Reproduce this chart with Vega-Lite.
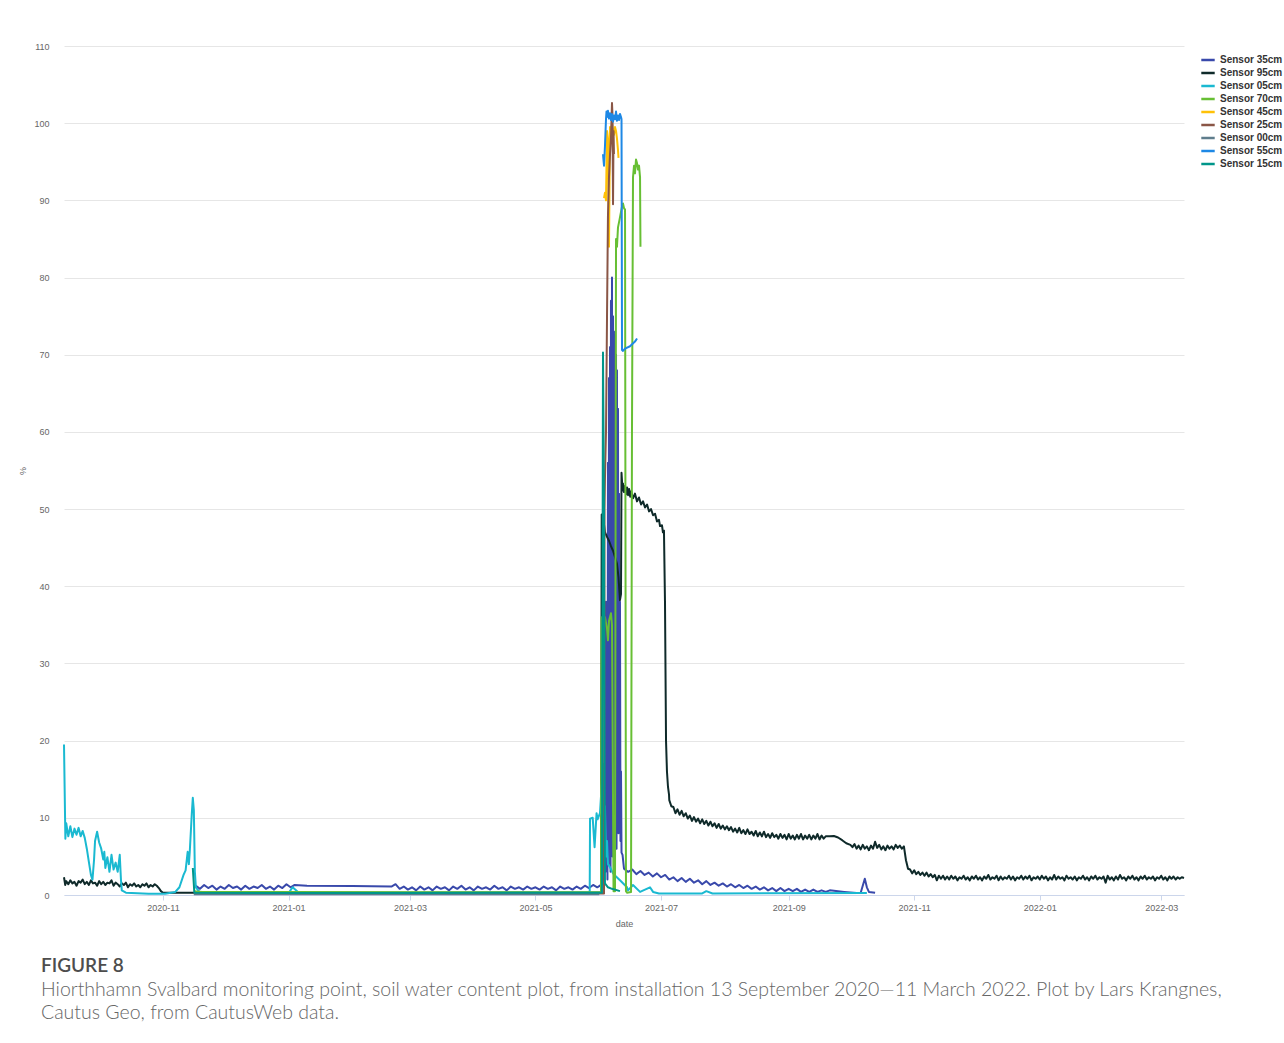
{
"$schema":"https://vega.github.io/schema/vega-lite/v6.json",
"width":1120,"height":849,
"autosize":"none",
"padding":{"left":64,"top":46,"right":100,"bottom":148},
"background":"white",
"config":{"view":{"stroke":null},"font":"Liberation Sans"},
"title":{"text":"FIGURE 8","subtitle":["Hiorthhamn Svalbard monitoring point, soil water content plot, from installation 13 September 2020—11 March 2022. Plot by Lars Krangnes,","Cautus Geo, from CautusWeb data."],"orient":"bottom","anchor":"start","frame":"group","dx":-23,"offset":29,"font":"Lato","fontSize":19,"fontWeight":600,"color":"#4d4d4d","subtitleFont":"Lato","subtitleFontSize":19.5,"subtitleFontWeight":300,"subtitleColor":"#666666","subtitleLineHeight":23,"subtitlePadding":5},
"datasets":{
"s35":[
{"d":"2020-11-17","v":1.2},{"d":"2020-11-19","v":0.8},{"d":"2020-11-21","v":1.3},{"d":"2020-11-23","v":0.9},{"d":"2020-11-25","v":1.2},{"d":"2020-11-27","v":0.7},{"d":"2020-11-29","v":1.1},{"d":"2020-12-01","v":0.8},{"d":"2020-12-03","v":1.3},{"d":"2020-12-05","v":0.9},{"d":"2020-12-07","v":1.1},{"d":"2020-12-09","v":0.7},{"d":"2020-12-11","v":1.2},{"d":"2020-12-13","v":0.8},{"d":"2020-12-15","v":1.1},{"d":"2020-12-17","v":0.9},{"d":"2020-12-19","v":1.3},{"d":"2020-12-21","v":0.8},{"d":"2020-12-23","v":1.1},{"d":"2020-12-25","v":0.7},{"d":"2020-12-27","v":1.2},{"d":"2020-12-29","v":0.9},{"d":"2020-12-31","v":1.4},{"d":"2021-01-02","v":1.0},{"d":"2021-01-04","v":1.3},
{"d":"2021-01-10","v":1.2},{"d":"2021-02-01","v":1.15},{"d":"2021-02-20","v":1.1},
{"d":"2021-02-22","v":1.4},{"d":"2021-02-24","v":0.8},{"d":"2021-02-26","v":1.1},{"d":"2021-02-28","v":0.7},{"d":"2021-03-02","v":1.0},{"d":"2021-03-04","v":0.6},{"d":"2021-03-06","v":1.1},{"d":"2021-03-08","v":0.7},{"d":"2021-03-10","v":1.0},{"d":"2021-03-12","v":0.6},{"d":"2021-03-14","v":1.1},{"d":"2021-03-16","v":0.8},{"d":"2021-03-18","v":1.0},{"d":"2021-03-20","v":0.6},{"d":"2021-03-22","v":1.1},{"d":"2021-03-24","v":0.8},{"d":"2021-03-26","v":1.2},{"d":"2021-03-28","v":0.7},{"d":"2021-03-30","v":1.0},{"d":"2021-04-01","v":0.6},{"d":"2021-04-03","v":1.1},{"d":"2021-04-05","v":0.8},{"d":"2021-04-07","v":1.0},{"d":"2021-04-09","v":0.7},{"d":"2021-04-11","v":1.2},{"d":"2021-04-13","v":0.8},{"d":"2021-04-15","v":1.0},{"d":"2021-04-17","v":0.6},{"d":"2021-04-19","v":1.1},{"d":"2021-04-21","v":0.8},{"d":"2021-04-23","v":1.0},{"d":"2021-04-25","v":0.7},{"d":"2021-04-27","v":1.1},{"d":"2021-04-29","v":0.8},{"d":"2021-05-01","v":1.0},{"d":"2021-05-03","v":0.7},{"d":"2021-05-05","v":1.1},{"d":"2021-05-07","v":0.8},{"d":"2021-05-09","v":1.0},{"d":"2021-05-11","v":0.6},{"d":"2021-05-13","v":1.1},{"d":"2021-05-15","v":0.8},{"d":"2021-05-17","v":1.0},{"d":"2021-05-19","v":0.7},{"d":"2021-05-21","v":1.1},{"d":"2021-05-23","v":0.8},{"d":"2021-05-25","v":1.2},{"d":"2021-05-27","v":0.9},{"d":"2021-05-29","v":1.3},{"d":"2021-05-31","v":1.0},{"d":"2021-06-01T08:00","v":1.2},
{"d":"2021-06-02T07:00","v":1.5},{"d":"2021-06-03T07:00","v":2.0},{"d":"2021-06-03T18:00","v":22},{"d":"2021-06-04T00:00","v":3},{"d":"2021-06-04T06:00","v":38},{"d":"2021-06-04T12:00","v":4},{"d":"2021-06-04T18:00","v":35},{"d":"2021-06-04T23:00","v":2},{"d":"2021-06-05T05:00","v":56},{"d":"2021-06-05T11:00","v":4},{"d":"2021-06-05T17:00","v":67},{"d":"2021-06-05T23:00","v":6},{"d":"2021-06-06T05:00","v":71},{"d":"2021-06-06T11:00","v":3},{"d":"2021-06-06T16:00","v":77},{"d":"2021-06-06T22:00","v":9},{"d":"2021-06-07T04:00","v":80},{"d":"2021-06-07T10:00","v":5},{"d":"2021-06-07T16:00","v":75},{"d":"2021-06-07T22:00","v":8},{"d":"2021-06-08T03:00","v":73},{"d":"2021-06-08T09:00","v":4},{"d":"2021-06-08T15:00","v":72.5},{"d":"2021-06-08T21:00","v":12},{"d":"2021-06-09T03:00","v":70},{"d":"2021-06-09T09:00","v":6},{"d":"2021-06-09T14:00","v":68},{"d":"2021-06-09T20:00","v":10},{"d":"2021-06-10T02:00","v":63},{"d":"2021-06-10T08:00","v":8},{"d":"2021-06-10T14:00","v":52},{"d":"2021-06-10T20:00","v":12},{"d":"2021-06-11T01:00","v":38},{"d":"2021-06-11T07:00","v":7},{"d":"2021-06-11T13:00","v":16},{"d":"2021-06-11T19:00","v":5.5},{"d":"2021-06-12T07:00","v":5.2},{"d":"2021-06-13T00:00","v":3.4},
{"d":"2021-06-15","v":3.0},{"d":"2021-06-17","v":3.3},{"d":"2021-06-19","v":2.7},{"d":"2021-06-21","v":3.1},{"d":"2021-06-23","v":2.6},{"d":"2021-06-25","v":2.9},{"d":"2021-06-27","v":2.4},{"d":"2021-06-29","v":2.8},{"d":"2021-07-01","v":2.3},{"d":"2021-07-03","v":2.6},{"d":"2021-07-05","v":2.0},{"d":"2021-07-07","v":2.3},{"d":"2021-07-09","v":1.8},{"d":"2021-07-11","v":2.2},{"d":"2021-07-13","v":1.7},{"d":"2021-07-15","v":2.1},{"d":"2021-07-17","v":1.6},{"d":"2021-07-19","v":1.9},{"d":"2021-07-21","v":1.4},{"d":"2021-07-23","v":1.8},{"d":"2021-07-25","v":1.3},{"d":"2021-07-27","v":1.6},{"d":"2021-07-29","v":1.2},{"d":"2021-07-31","v":1.5},{"d":"2021-08-02","v":1.1},{"d":"2021-08-04","v":1.4},{"d":"2021-08-06","v":1.0},{"d":"2021-08-08","v":1.3},{"d":"2021-08-10","v":0.9},{"d":"2021-08-12","v":1.2},{"d":"2021-08-14","v":0.8},{"d":"2021-08-16","v":1.1},{"d":"2021-08-18","v":0.7},{"d":"2021-08-20","v":1.0},{"d":"2021-08-22","v":0.6},{"d":"2021-08-24","v":0.9},{"d":"2021-08-26","v":0.5},{"d":"2021-08-28","v":0.9},{"d":"2021-08-30","v":0.5},{"d":"2021-09-01","v":0.8},{"d":"2021-09-03","v":0.5},{"d":"2021-09-05","v":0.8},{"d":"2021-09-07","v":0.4},{"d":"2021-09-09","v":0.7},{"d":"2021-09-11","v":0.4},{"d":"2021-09-13","v":0.7},{"d":"2021-09-15","v":0.4},{"d":"2021-09-17","v":0.6},{"d":"2021-09-19","v":0.4},{"d":"2021-09-21","v":0.6},
{"d":"2021-09-28","v":0.4},{"d":"2021-10-04","v":0.25},{"d":"2021-10-06","v":0.3},{"d":"2021-10-07","v":1.2},{"d":"2021-10-08","v":2.1},{"d":"2021-10-09","v":1.0},{"d":"2021-10-10","v":0.4},{"d":"2021-10-13","v":0.3}
],
"s95":[
{"d":"2020-09-13T22:00","v":2.3},{"d":"2020-09-14T12:00","v":1.3},{"d":"2020-09-15","v":1.8},{"d":"2020-09-16","v":1.4},{"d":"2020-09-17","v":1.9},{"d":"2020-09-18","v":1.5},{"d":"2020-09-19","v":1.7},{"d":"2020-09-20","v":1.2},{"d":"2020-09-21","v":1.8},{"d":"2020-09-22","v":1.6},{"d":"2020-09-23","v":2.0},{"d":"2020-09-24","v":1.4},{"d":"2020-09-25","v":1.7},{"d":"2020-09-26","v":1.3},{"d":"2020-09-27","v":1.9},{"d":"2020-09-28","v":1.5},{"d":"2020-09-29","v":1.6},{"d":"2020-09-30","v":1.2},{"d":"2020-10-01","v":1.8},{"d":"2020-10-02","v":1.4},{"d":"2020-10-03","v":1.7},{"d":"2020-10-04","v":1.3},{"d":"2020-10-05","v":1.6},{"d":"2020-10-06","v":1.5},{"d":"2020-10-07","v":1.9},{"d":"2020-10-08","v":1.2},{"d":"2020-10-09","v":1.6},{"d":"2020-10-10","v":1.4},{"d":"2020-10-11","v":1.1},{"d":"2020-10-12","v":1.5},{"d":"2020-10-13","v":1.3},{"d":"2020-10-14","v":1.6},{"d":"2020-10-15","v":1.0},{"d":"2020-10-16","v":1.4},{"d":"2020-10-17","v":1.2},{"d":"2020-10-18","v":1.5},{"d":"2020-10-19","v":1.1},{"d":"2020-10-20","v":1.3},{"d":"2020-10-21","v":1.0},{"d":"2020-10-22","v":1.4},{"d":"2020-10-23","v":1.2},{"d":"2020-10-24","v":1.5},{"d":"2020-10-25","v":1.0},{"d":"2020-10-26","v":1.3},{"d":"2020-10-27","v":1.1},{"d":"2020-10-28","v":1.4},{"d":"2020-10-29","v":1.2},{"d":"2020-10-30","v":0.9},{"d":"2020-10-31","v":0.5},{"d":"2020-11-01","v":0.3},{"d":"2021-01-01","v":0.3},{"d":"2021-05-01","v":0.3},{"d":"2021-06-01T20:00","v":0.3},
{"d":"2021-06-02T04:00","v":49.3},{"d":"2021-06-02T19:00","v":47.5},{"d":"2021-06-03T07:00","v":48.0},{"d":"2021-06-03T18:00","v":47.0},{"d":"2021-06-04T18:00","v":46.4},{"d":"2021-06-05T17:00","v":45.9},{"d":"2021-06-06T16:00","v":45.2},{"d":"2021-06-07T16:00","v":44.6},{"d":"2021-06-08T15:00","v":43.8},{"d":"2021-06-09T14:00","v":42.9},{"d":"2021-06-10T08:00","v":41.2},{"d":"2021-06-11T01:00","v":38.2},{"d":"2021-06-11T13:00","v":39.0},{"d":"2021-06-11T19:00","v":54.7},{"d":"2021-06-12T07:00","v":52.4},{"d":"2021-06-12T12:00","v":53.3},{"d":"2021-06-13T00:00","v":52.2},{"d":"2021-06-13T12:00","v":53.0},{"d":"2021-06-14T00:00","v":51.9},{"d":"2021-06-14T12:00","v":52.8},{"d":"2021-06-15T00:00","v":51.8},{"d":"2021-06-15T12:00","v":52.6},{"d":"2021-06-16T00:00","v":51.6},{"d":"2021-06-16T12:00","v":52.3},{"d":"2021-06-17T09:00","v":51.4},{"d":"2021-06-18T08:00","v":52.0},{"d":"2021-06-19T08:00","v":51.0},{"d":"2021-06-20T07:00","v":51.5},{"d":"2021-06-21T07:00","v":50.6},{"d":"2021-06-22T06:00","v":51.0},{"d":"2021-06-23T05:00","v":50.2},{"d":"2021-06-24T05:00","v":50.6},{"d":"2021-06-25T04:00","v":49.7},{"d":"2021-06-26T03:00","v":50.0},{"d":"2021-06-27T03:00","v":49.2},{"d":"2021-06-28T02:00","v":49.4},{"d":"2021-06-29T01:00","v":48.4},{"d":"2021-06-30T00:00","v":48.6},{"d":"2021-06-30T12:00","v":47.8},{"d":"2021-07-01T11:00","v":47.9},{"d":"2021-07-01T22:00","v":47.0},{"d":"2021-07-02T10:00","v":47.2},{"d":"2021-07-02T22:00","v":38},{"d":"2021-07-03T10:00","v":20},{"d":"2021-07-03T21:00","v":16},{"d":"2021-07-04T09:00","v":14},{"d":"2021-07-04T21:00","v":13.0},
{"d":"2021-07-05","v":12.3},{"d":"2021-07-06","v":11.5},{"d":"2021-07-07","v":11.4},{"d":"2021-07-08","v":10.6},{"d":"2021-07-09","v":11.1},{"d":"2021-07-10","v":10.4},{"d":"2021-07-11","v":10.9},{"d":"2021-07-12","v":10.2},{"d":"2021-07-13","v":10.6},{"d":"2021-07-14","v":9.9},{"d":"2021-07-15","v":10.3},{"d":"2021-07-16","v":9.6},{"d":"2021-07-17","v":10.1},{"d":"2021-07-18","v":9.5},{"d":"2021-07-19","v":9.9},{"d":"2021-07-20","v":9.3},{"d":"2021-07-21","v":9.8},{"d":"2021-07-22","v":9.2},{"d":"2021-07-23","v":9.6},{"d":"2021-07-24","v":9.0},{"d":"2021-07-25","v":9.5},{"d":"2021-07-26","v":8.9},{"d":"2021-07-27","v":9.3},{"d":"2021-07-28","v":8.7},{"d":"2021-07-29","v":9.2},{"d":"2021-07-30","v":8.6},{"d":"2021-07-31","v":9.0},{"d":"2021-08-01","v":8.5},{"d":"2021-08-02","v":8.9},{"d":"2021-08-03","v":8.4},{"d":"2021-08-04","v":8.8},{"d":"2021-08-05","v":8.2},{"d":"2021-08-06","v":8.6},{"d":"2021-08-07","v":8.1},{"d":"2021-08-08","v":8.7},{"d":"2021-08-09","v":8.0},{"d":"2021-08-10","v":8.4},{"d":"2021-08-11","v":7.9},{"d":"2021-08-12","v":8.5},{"d":"2021-08-13","v":7.9},{"d":"2021-08-14","v":8.2},{"d":"2021-08-15","v":7.7},{"d":"2021-08-16","v":8.3},{"d":"2021-08-17","v":7.6},{"d":"2021-08-18","v":8.1},{"d":"2021-08-19","v":7.6},{"d":"2021-08-20","v":8.2},{"d":"2021-08-21","v":7.5},{"d":"2021-08-22","v":7.9},{"d":"2021-08-23","v":7.4},{"d":"2021-08-24","v":8.0},{"d":"2021-08-25","v":7.5},{"d":"2021-08-26","v":7.8},{"d":"2021-08-27","v":7.3},{"d":"2021-08-28","v":7.9},{"d":"2021-08-29","v":7.4},{"d":"2021-08-30","v":7.8},{"d":"2021-08-31","v":7.2},{"d":"2021-09-01","v":7.9},{"d":"2021-09-02","v":7.3},{"d":"2021-09-03","v":7.7},{"d":"2021-09-04","v":7.2},{"d":"2021-09-05","v":7.8},{"d":"2021-09-06","v":7.3},{"d":"2021-09-07","v":7.9},{"d":"2021-09-08","v":7.2},{"d":"2021-09-09","v":7.7},{"d":"2021-09-10","v":7.3},{"d":"2021-09-11","v":7.8},{"d":"2021-09-12","v":7.2},{"d":"2021-09-13","v":7.7},{"d":"2021-09-14","v":7.3},{"d":"2021-09-15","v":7.9},{"d":"2021-09-16","v":7.2},{"d":"2021-09-17","v":7.7},{"d":"2021-09-18","v":7.3},{"d":"2021-09-19","v":7.6},
{"d":"2021-09-21","v":7.6},{"d":"2021-09-23","v":7.65},{"d":"2021-09-25","v":7.45},{"d":"2021-09-27","v":7.1},{"d":"2021-09-29","v":6.7},{"d":"2021-10-01","v":6.5},
{"d":"2021-10-02","v":6.2},{"d":"2021-10-03","v":6.6},{"d":"2021-10-04","v":6.0},{"d":"2021-10-05","v":6.4},{"d":"2021-10-06","v":5.9},{"d":"2021-10-07","v":6.5},{"d":"2021-10-08","v":6.0},{"d":"2021-10-09","v":6.3},{"d":"2021-10-10","v":5.8},{"d":"2021-10-11","v":6.4},{"d":"2021-10-12","v":6.0},{"d":"2021-10-13","v":6.9},{"d":"2021-10-14","v":6.1},{"d":"2021-10-15","v":6.5},{"d":"2021-10-16","v":5.9},{"d":"2021-10-17","v":6.3},{"d":"2021-10-18","v":5.8},{"d":"2021-10-19","v":6.4},{"d":"2021-10-20","v":6.0},{"d":"2021-10-21","v":6.3},{"d":"2021-10-22","v":5.9},{"d":"2021-10-23","v":6.5},{"d":"2021-10-24","v":6.1},{"d":"2021-10-25","v":6.4},{"d":"2021-10-26","v":6.0},{"d":"2021-10-27","v":6.3},{"d":"2021-10-28","v":4.5},{"d":"2021-10-29","v":3.4},{"d":"2021-10-30","v":3.3},{"d":"2021-10-31","v":2.8},
{"d":"2021-11-01","v":3.2},{"d":"2021-11-02","v":2.7},{"d":"2021-11-03","v":3.0},{"d":"2021-11-04","v":2.6},{"d":"2021-11-05","v":2.9},{"d":"2021-11-06","v":2.5},{"d":"2021-11-07","v":2.9},{"d":"2021-11-08","v":2.4},{"d":"2021-11-09","v":2.7},{"d":"2021-11-10","v":2.3},{"d":"2021-11-11","v":2.6},{"d":"2021-11-12","v":1.9},{"d":"2021-11-13","v":2.5},{"d":"2021-11-14","v":2.1},{"d":"2021-11-15","v":2.5},{"d":"2021-11-16","v":2.0},{"d":"2021-11-17","v":2.4},{"d":"2021-11-18","v":2.0},{"d":"2021-11-19","v":2.5},{"d":"2021-11-20","v":2.1},{"d":"2021-11-21","v":2.4},{"d":"2021-11-22","v":1.9},{"d":"2021-11-23","v":2.3},{"d":"2021-11-24","v":2.1},{"d":"2021-11-25","v":2.5},{"d":"2021-11-26","v":2.0},{"d":"2021-11-27","v":2.3},{"d":"2021-11-28","v":1.9},{"d":"2021-11-29","v":2.4},{"d":"2021-11-30","v":2.1},
{"d":"2021-12-01","v":2.5},{"d":"2021-12-02","v":2.0},{"d":"2021-12-03","v":2.3},{"d":"2021-12-04","v":1.9},{"d":"2021-12-05","v":2.4},{"d":"2021-12-06","v":2.1},{"d":"2021-12-07","v":2.6},{"d":"2021-12-08","v":2.0},{"d":"2021-12-09","v":2.3},{"d":"2021-12-10","v":2.1},{"d":"2021-12-11","v":2.5},{"d":"2021-12-12","v":1.9},{"d":"2021-12-13","v":2.4},{"d":"2021-12-14","v":2.0},{"d":"2021-12-15","v":2.3},{"d":"2021-12-16","v":2.1},{"d":"2021-12-17","v":2.5},{"d":"2021-12-18","v":2.0},{"d":"2021-12-19","v":2.4},{"d":"2021-12-20","v":1.9},{"d":"2021-12-21","v":2.3},{"d":"2021-12-22","v":2.1},{"d":"2021-12-23","v":2.5},{"d":"2021-12-24","v":2.0},{"d":"2021-12-25","v":2.4},{"d":"2021-12-26","v":2.1},{"d":"2021-12-27","v":2.5},{"d":"2021-12-28","v":1.9},{"d":"2021-12-29","v":2.3},{"d":"2021-12-30","v":2.1},{"d":"2021-12-31","v":2.4},
{"d":"2022-01-01","v":2.0},{"d":"2022-01-02","v":2.5},{"d":"2022-01-03","v":2.1},{"d":"2022-01-04","v":2.4},{"d":"2022-01-05","v":1.9},{"d":"2022-01-06","v":2.3},{"d":"2022-01-07","v":2.0},{"d":"2022-01-08","v":2.6},{"d":"2022-01-09","v":2.0},{"d":"2022-01-10","v":2.4},{"d":"2022-01-11","v":2.1},{"d":"2022-01-12","v":2.3},{"d":"2022-01-13","v":1.9},{"d":"2022-01-14","v":2.5},{"d":"2022-01-15","v":2.1},{"d":"2022-01-16","v":2.3},{"d":"2022-01-17","v":2.0},{"d":"2022-01-18","v":2.4},{"d":"2022-01-19","v":1.9},{"d":"2022-01-20","v":2.3},{"d":"2022-01-21","v":2.1},{"d":"2022-01-22","v":2.5},{"d":"2022-01-23","v":2.0},{"d":"2022-01-24","v":2.3},{"d":"2022-01-25","v":1.9},{"d":"2022-01-26","v":2.4},{"d":"2022-01-27","v":2.1},{"d":"2022-01-28","v":2.5},{"d":"2022-01-29","v":2.0},{"d":"2022-01-30","v":2.3},{"d":"2022-01-31","v":2.1},
{"d":"2022-02-01","v":2.4},{"d":"2022-02-02","v":1.6},{"d":"2022-02-03","v":2.5},{"d":"2022-02-04","v":2.0},{"d":"2022-02-05","v":2.3},{"d":"2022-02-06","v":1.9},{"d":"2022-02-07","v":2.4},{"d":"2022-02-08","v":2.0},{"d":"2022-02-09","v":2.6},{"d":"2022-02-10","v":2.1},{"d":"2022-02-11","v":2.3},{"d":"2022-02-12","v":1.9},{"d":"2022-02-13","v":2.4},{"d":"2022-02-14","v":2.1},{"d":"2022-02-15","v":2.5},{"d":"2022-02-16","v":2.0},{"d":"2022-02-17","v":2.3},{"d":"2022-02-18","v":1.9},{"d":"2022-02-19","v":2.4},{"d":"2022-02-20","v":2.1},{"d":"2022-02-21","v":2.5},{"d":"2022-02-22","v":2.0},{"d":"2022-02-23","v":2.3},{"d":"2022-02-24","v":2.1},{"d":"2022-02-25","v":2.4},{"d":"2022-02-26","v":1.9},{"d":"2022-02-27","v":2.3},{"d":"2022-02-28","v":2.1},
{"d":"2022-03-01","v":2.5},{"d":"2022-03-02","v":2.0},{"d":"2022-03-03","v":2.3},{"d":"2022-03-04","v":1.9},{"d":"2022-03-05","v":2.4},{"d":"2022-03-06","v":2.1},{"d":"2022-03-07","v":2.4},{"d":"2022-03-08","v":2.0},{"d":"2022-03-09","v":2.3},{"d":"2022-03-10","v":2.1},{"d":"2022-03-11","v":2.3},{"d":"2022-03-12T02:00","v":2.2}
],
"s05":[
{"d":"2020-09-13T22:00","v":19.5},{"d":"2020-09-14T14:00","v":7.3},{"d":"2020-09-15","v":9.3},{"d":"2020-09-16","v":7.6},{"d":"2020-09-17","v":8.9},{"d":"2020-09-18","v":7.5},{"d":"2020-09-19","v":8.6},{"d":"2020-09-20","v":7.8},{"d":"2020-09-21","v":8.7},{"d":"2020-09-22","v":7.6},{"d":"2020-09-23","v":8.3},{"d":"2020-09-24","v":7.4},{"d":"2020-09-25","v":6.0},{"d":"2020-09-26","v":4.3},{"d":"2020-09-27","v":2.6},{"d":"2020-09-27T18:00","v":2.0},{"d":"2020-09-28T12:00","v":4.5},{"d":"2020-09-29","v":7.0},{"d":"2020-09-30","v":8.2},{"d":"2020-10-01","v":6.8},{"d":"2020-10-02","v":6.0},{"d":"2020-10-03","v":4.6},{"d":"2020-10-03T12:00","v":5.6},{"d":"2020-10-04","v":3.5},{"d":"2020-10-05","v":4.9},{"d":"2020-10-06","v":3.0},{"d":"2020-10-07","v":5.2},{"d":"2020-10-08","v":3.3},{"d":"2020-10-09","v":4.2},{"d":"2020-10-10","v":3.0},{"d":"2020-10-11","v":5.2},{"d":"2020-10-11T14:00","v":2.0},{"d":"2020-10-12","v":0.6},{"d":"2020-10-14","v":0.3},{"d":"2020-10-25","v":0.15},{"d":"2020-11-02","v":0.15},{"d":"2020-11-07","v":0.4},{"d":"2020-11-09","v":1.0},{"d":"2020-11-11","v":2.6},{"d":"2020-11-12","v":3.2},{"d":"2020-11-13","v":5.6},{"d":"2020-11-13T14:00","v":4.0},{"d":"2020-11-14","v":5.5},{"d":"2020-11-15","v":10.5},{"d":"2020-11-15T12:00","v":12.6},{"d":"2020-11-16","v":11.0},{"d":"2020-11-16T12:00","v":3.0},{"d":"2020-11-17","v":1.0},{"d":"2020-11-19","v":0.3},{"d":"2021-01-01","v":0.25},{"d":"2021-01-03","v":1.0},{"d":"2021-01-06","v":0.3},{"d":"2021-05-27T08:00","v":0.3},
{"d":"2021-05-27T12:00","v":9.9},{"d":"2021-05-28T19:00","v":10.0},{"d":"2021-05-29T17:00","v":6.2},{"d":"2021-05-30T16:00","v":10.6},{"d":"2021-05-31T04:00","v":9.8},{"d":"2021-06-01T08:00","v":10.6},{"d":"2021-06-02T07:00","v":14.9},{"d":"2021-06-02T19:00","v":17.0},{"d":"2021-06-03T07:00","v":8.0},{"d":"2021-06-03T18:00","v":11.5},{"d":"2021-06-04T06:00","v":5.0},{"d":"2021-06-04T18:00","v":7.0},{"d":"2021-06-05T05:00","v":4.0},{"d":"2021-06-06T05:00","v":3.6},{"d":"2021-06-07T16:00","v":2.8},{"d":"2021-06-09T03:00","v":2.4},{"d":"2021-06-11T01:00","v":1.9},{"d":"2021-06-14T11:00","v":1.0},{"d":"2021-06-14T23:00","v":0.6},{"d":"2021-06-17T09:00","v":1.3},{"d":"2021-06-20T19:00","v":0.4},{"d":"2021-06-25T15:00","v":1.0},{"d":"2021-06-27T03:00","v":0.4},{"d":"2021-06-30","v":0.2},{"d":"2021-07-21","v":0.2},{"d":"2021-07-23","v":0.5},{"d":"2021-07-26","v":0.2},{"d":"2021-10-09","v":0.25}
],
"s70":[
{"d":"2020-11-16","v":0.5},{"d":"2020-11-20","v":0.4},{"d":"2021-01-01","v":0.4},{"d":"2021-03-01","v":0.35},{"d":"2021-05-01","v":0.35},{"d":"2021-06-01T20:00","v":0.35},
{"d":"2021-06-02T02:00","v":36},{"d":"2021-06-02T19:00","v":35},{"d":"2021-06-03T18:00","v":36},{"d":"2021-06-04T18:00","v":34.5},{"d":"2021-06-05T05:00","v":33},{"d":"2021-06-05T17:00","v":35.5},{"d":"2021-06-06T16:00","v":36.5},{"d":"2021-06-07T04:00","v":35},{"d":"2021-06-07T22:00","v":0.5},{"d":"2021-06-08T15:00","v":0.5},{"d":"2021-06-09T03:00","v":85},{"d":"2021-06-09T14:00","v":84},{"d":"2021-06-10T02:00","v":86.5},{"d":"2021-06-10T20:00","v":87.5},{"d":"2021-06-11T13:00","v":88.5},{"d":"2021-06-12T01:00","v":89.2},{"d":"2021-06-12T12:00","v":89.6},{"d":"2021-06-13T00:00","v":89.0},{"d":"2021-06-13T12:00","v":88.8},{"d":"2021-06-13T23:00","v":0.5},{"d":"2021-06-14T11:00","v":0.3},{"d":"2021-06-16T10:00","v":0.4},{"d":"2021-06-16T21:00","v":60},{"d":"2021-06-17T09:00","v":93},{"d":"2021-06-17T21:00","v":94.5},{"d":"2021-06-18T08:00","v":93.5},{"d":"2021-06-18T20:00","v":95.3},{"d":"2021-06-19T08:00","v":94.8},{"d":"2021-06-19T19:00","v":94},{"d":"2021-06-20T07:00","v":94.5},{"d":"2021-06-20T19:00","v":93},{"d":"2021-06-21T00:00","v":84}
],
"s45":[
{"d":"2021-06-03T07:00","v":90.3},{"d":"2021-06-03T18:00","v":91},{"d":"2021-06-04T06:00","v":90},{"d":"2021-06-04T18:00","v":99},{"d":"2021-06-05T05:00","v":98},{"d":"2021-06-05T17:00","v":84},{"d":"2021-06-06T05:00","v":99.5},{"d":"2021-06-06T16:00","v":98.5},{"d":"2021-06-07T04:00","v":100},{"d":"2021-06-07T16:00","v":99},{"d":"2021-06-08T03:00","v":98.5},{"d":"2021-06-08T15:00","v":99.5},{"d":"2021-06-09T03:00","v":99},{"d":"2021-06-09T14:00","v":98},{"d":"2021-06-10T02:00","v":96.5},{"d":"2021-06-10T08:00","v":95.5}
],
"s25":[
{"d":"2020-11-16","v":0.2},{"d":"2021-06-03T07:00","v":0.2},{"d":"2021-06-03T13:00","v":50},{"d":"2021-06-03T18:00","v":54},{"d":"2021-06-04T06:00","v":60},{"d":"2021-06-04T18:00","v":75},{"d":"2021-06-05T05:00","v":88},{"d":"2021-06-05T17:00","v":93},{"d":"2021-06-06T05:00","v":96},{"d":"2021-06-06T16:00","v":98},{"d":"2021-06-07T04:00","v":102.6},{"d":"2021-06-07T10:00","v":101},{"d":"2021-06-07T16:00","v":89.5},{"d":"2021-06-07T22:00","v":99},{"d":"2021-06-08T03:00","v":96}
],
"s00":[
{"d":"2020-11-16","v":0.1},{"d":"2021-01-01","v":0.1},{"d":"2021-03-01","v":0.1},{"d":"2021-06-01","v":0.1}
],
"s55":[
{"d":"2021-06-02T19:00","v":96},{"d":"2021-06-03T07:00","v":94.5},{"d":"2021-06-03T18:00","v":97},{"d":"2021-06-04T06:00","v":100.5},{"d":"2021-06-04T12:00","v":101.5},{"d":"2021-06-04T18:00","v":100.8},{"d":"2021-06-05T05:00","v":101.6},{"d":"2021-06-05T17:00","v":100.6},{"d":"2021-06-06T05:00","v":101.3},{"d":"2021-06-06T16:00","v":100.4},{"d":"2021-06-07T04:00","v":101.2},{"d":"2021-06-07T16:00","v":100.2},{"d":"2021-06-08T03:00","v":101.0},{"d":"2021-06-08T15:00","v":100.5},{"d":"2021-06-09T03:00","v":101.5},{"d":"2021-06-09T14:00","v":100.3},{"d":"2021-06-10T02:00","v":101.0},{"d":"2021-06-10T14:00","v":100.4},{"d":"2021-06-11T01:00","v":101.2},{"d":"2021-06-11T13:00","v":100.8},{"d":"2021-06-11T19:00","v":100.5},{"d":"2021-06-12T01:00","v":70.6},{"d":"2021-06-12T12:00","v":70.5},{"d":"2021-06-13T12:00","v":70.8},{"d":"2021-06-15T22:00","v":71.1},{"d":"2021-06-18T08:00","v":71.7},{"d":"2021-06-19T08:00","v":72.1}
],
"s15":[
{"d":"2020-11-15T12:00","v":3.5},{"d":"2020-11-16T06:00","v":0.3},{"d":"2021-01-01","v":0.25},{"d":"2021-03-01","v":0.25},{"d":"2021-06-02T07:00","v":0.3},{"d":"2021-06-02T19:00","v":70.3},{"d":"2021-06-03T07:00","v":50},{"d":"2021-06-03T13:00","v":17},{"d":"2021-06-03T18:00","v":1.5},{"d":"2021-06-05T05:00","v":1.0},{"d":"2021-06-07T04:00","v":0.8},{"d":"2021-06-11T01:00","v":0.5}
]
},
"encoding":{
"x":{"field":"d","type":"temporal","scale":{"domain":["2020-09-13T22:00","2022-03-12T02:00"]},"axis":{"title":"date","format":"%Y-%m","tickCount":{"interval":"month","step":2},"grid":false,"domainColor":"#ccd6eb","tickColor":"#ccd6eb","tickSize":5,"labelFont":"Liberation Sans","labelFontSize":9,"labelColor":"#666666","labelPadding":3,"titleFont":"Liberation Sans","titleFontSize":9,"titleFontWeight":"normal","titleColor":"#666666","titlePadding":7}},
"y":{"field":"v","type":"quantitative","scale":{"domain":[0,110],"nice":false},"axis":{"title":"%","values":[0,10,20,30,40,50,60,70,80,90,100,110],"domain":false,"ticks":false,"gridColor":"#e6e6e6","labelFont":"Liberation Sans","labelFontSize":9,"labelColor":"#666666","labelPadding":15,"titleFont":"Liberation Sans","titleFontSize":9,"titleFontWeight":"normal","titleColor":"#666666","titlePadding":6}}
},
"layer":[
{"data":{"name":"s35"},"mark":{"type":"line","strokeWidth":2,"strokeJoin":"round"},"encoding":{"color":{"datum":"Sensor 35cm","type":"nominal","scale":{"domain":["Sensor 35cm","Sensor 95cm","Sensor 05cm","Sensor 70cm","Sensor 45cm","Sensor 25cm","Sensor 00cm","Sensor 55cm","Sensor 15cm"],"range":["#3949ab","#0f2a2a","#1ab9d1","#67bf34","#ffc107","#8a5646","#5f7d8c","#1e88e5","#00968a"]},"legend":{"title":null,"orient":"none","legendX":1136,"legendY":6,"padding":0,"labelFont":"Liberation Sans","labelFontSize":10,"labelFontWeight":"bold","labelColor":"#333333","symbolStrokeWidth":2.5,"symbolSize":180,"rowPadding":0,"labelOffset":4}}}},
{"data":{"name":"s95"},"mark":{"type":"line","strokeWidth":2,"strokeJoin":"round"},"encoding":{"color":{"datum":"Sensor 95cm","type":"nominal"}}},
{"data":{"name":"s05"},"mark":{"type":"line","strokeWidth":2,"strokeJoin":"round"},"encoding":{"color":{"datum":"Sensor 05cm","type":"nominal"}}},
{"data":{"name":"s70"},"mark":{"type":"line","strokeWidth":2,"strokeJoin":"round"},"encoding":{"color":{"datum":"Sensor 70cm","type":"nominal"}}},
{"data":{"name":"s45"},"mark":{"type":"line","strokeWidth":2,"strokeJoin":"round"},"encoding":{"color":{"datum":"Sensor 45cm","type":"nominal"}}},
{"data":{"name":"s25"},"mark":{"type":"line","strokeWidth":2,"strokeJoin":"round"},"encoding":{"color":{"datum":"Sensor 25cm","type":"nominal"}}},
{"data":{"name":"s00"},"mark":{"type":"line","strokeWidth":2,"strokeJoin":"round"},"encoding":{"color":{"datum":"Sensor 00cm","type":"nominal"}}},
{"data":{"name":"s55"},"mark":{"type":"line","strokeWidth":2,"strokeJoin":"round"},"encoding":{"color":{"datum":"Sensor 55cm","type":"nominal"}}},
{"data":{"name":"s15"},"mark":{"type":"line","strokeWidth":2,"strokeJoin":"round"},"encoding":{"color":{"datum":"Sensor 15cm","type":"nominal"}}}
]
}
